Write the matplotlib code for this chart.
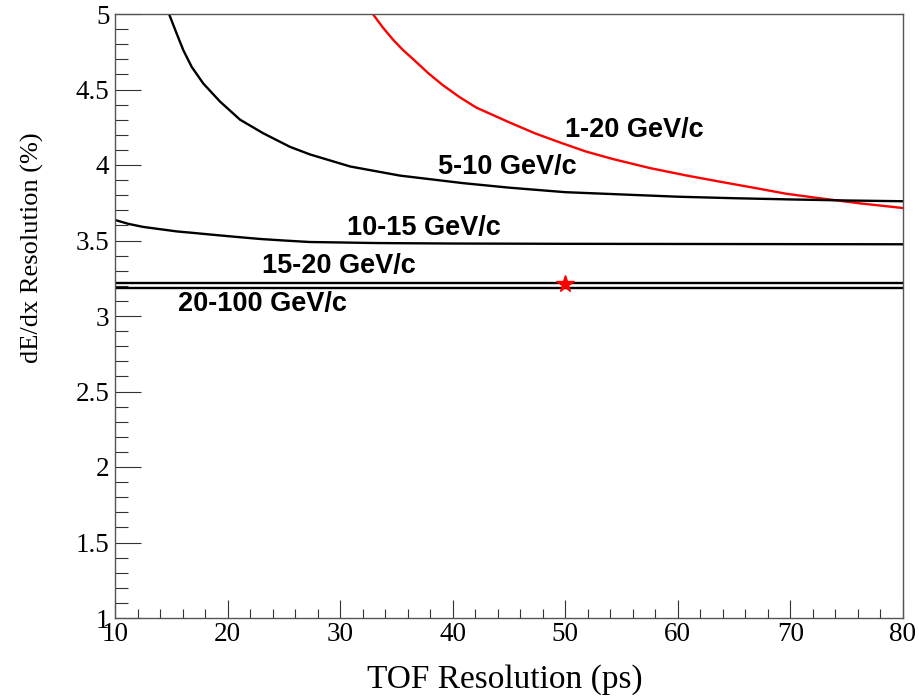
import matplotlib
matplotlib.use("Agg")
import matplotlib.pyplot as plt
from matplotlib.ticker import MultipleLocator

# TOF resolution (ps) vs dE/dx resolution (%) curves
x_1_20 = [32.9, 33.8, 34.7, 35.6, 36.5, 37.8, 39.1, 40.6, 42.1, 43.6, 45.1, 47.3, 49.5,
          51.8, 54.2, 57.5, 60.8, 63.7, 66.7, 69.6, 72.6, 76.3, 80.0]
y_1_20 = [5.0, 4.91, 4.83, 4.76, 4.70, 4.61, 4.53, 4.45, 4.38, 4.33, 4.28, 4.21, 4.15,
          4.09, 4.04, 3.98, 3.93, 3.89, 3.85, 3.81, 3.78, 3.745, 3.715]

x_5_10 = [14.8, 15.48, 16.07, 16.81, 17.84, 19.33, 21.11, 23.17, 25.55, 27.32, 30.9, 35.3,
          40.9, 45.0, 50.0, 55.0, 60.0, 65.0, 70.0, 75.0, 80.0]
y_5_10 = [5.0, 4.87, 4.76, 4.65, 4.54, 4.42, 4.30, 4.21, 4.12, 4.07, 3.99, 3.93,
          3.88, 3.85, 3.82, 3.805, 3.79, 3.78, 3.772, 3.765, 3.76]

x_10_15 = [10.0, 11.2, 12.5, 14.0, 15.5, 17.0, 18.4, 20.6, 22.9, 25.0, 27.3, 30.0, 33.3,
           40.0, 50.0, 60.0, 80.0]
y_10_15 = [3.636, 3.61, 3.59, 3.575, 3.56, 3.55, 3.54, 3.525, 3.51, 3.50, 3.49, 3.487, 3.483,
           3.48, 3.478, 3.477, 3.475]

x_15_20 = [10.0, 80.0]
y_15_20 = [3.217, 3.217]

x_20_100 = [10.0, 80.0]
y_20_100 = [3.184, 3.184]

star_x = [50.0]
star_y = [3.21]

labels = ["1-20 GeV/c", "5-10 GeV/c", "10-15 GeV/c", "15-20 GeV/c", "20-100 GeV/c"]
label_x = [49.96, 38.7, 30.6, 23.1, 15.6]
label_y = [4.185, 3.94, 3.536, 3.285, 3.033]

fig = plt.figure(figsize=(9.19, 6.98), dpi=100)
ax = fig.add_axes([115 / 919, 80 / 698, 788 / 919, 604 / 698])

ax.plot(x_1_20, y_1_20, color="#ff0000", lw=1.7)
ax.plot(x_5_10, y_5_10, color="black", lw=1.7)
ax.plot(x_10_15, y_10_15, color="black", lw=1.7)
ax.plot(x_15_20, y_15_20, color="black", lw=1.7)
ax.plot(x_20_100, y_20_100, color="black", lw=1.7)
ax.plot(star_x, star_y, linestyle="none", marker="*", color="#ff0000", markersize=13)

for t, lx, ly in zip(labels, label_x, label_y):
    ax.text(lx, ly, t, ha="left", va="baseline", fontsize=19.5,
            fontweight="bold", family="Liberation Sans")

ax.set_xlim(10, 80)
ax.set_ylim(1, 5)
ax.xaxis.set_major_locator(MultipleLocator(10))
ax.xaxis.set_minor_locator(MultipleLocator(2))
ax.yaxis.set_major_locator(MultipleLocator(0.5))
ax.yaxis.set_minor_locator(MultipleLocator(0.1))
ax.tick_params(axis="y", which="major", direction="in", length=18.7, width=0.8, color="#333333",
               labelsize=19.5, pad=4)
ax.tick_params(axis="y", which="minor", direction="in", length=9.4, width=0.8, color="#333333")
ax.tick_params(axis="x", which="major", direction="in", length=13, width=0.8, color="#333333",
               labelsize=19.5, pad=3)
ax.tick_params(axis="x", which="minor", direction="in", length=6.5, width=0.8, color="#333333")
for lab in ax.get_xticklabels() + ax.get_yticklabels():
    lab.set_family("Liberation Serif")
ax.yaxis.set_major_formatter(plt.FuncFormatter(lambda v, p: f"{v:g}"))
for s in ax.spines.values():
    s.set_color("#555555")
    s.set_linewidth(1.0)

fig.text(504.5 / 919, 1 - 688 / 698, "TOF Resolution (ps)", ha="center", va="baseline",
         fontsize=24, family="Liberation Serif")
fig.text(32 / 919, 1 - 248 / 698, "dE/dx Resolution (%)", ha="center", va="center",
         rotation=90, fontsize=19, family="Liberation Serif")

fig.savefig("out.png", dpi=100)
